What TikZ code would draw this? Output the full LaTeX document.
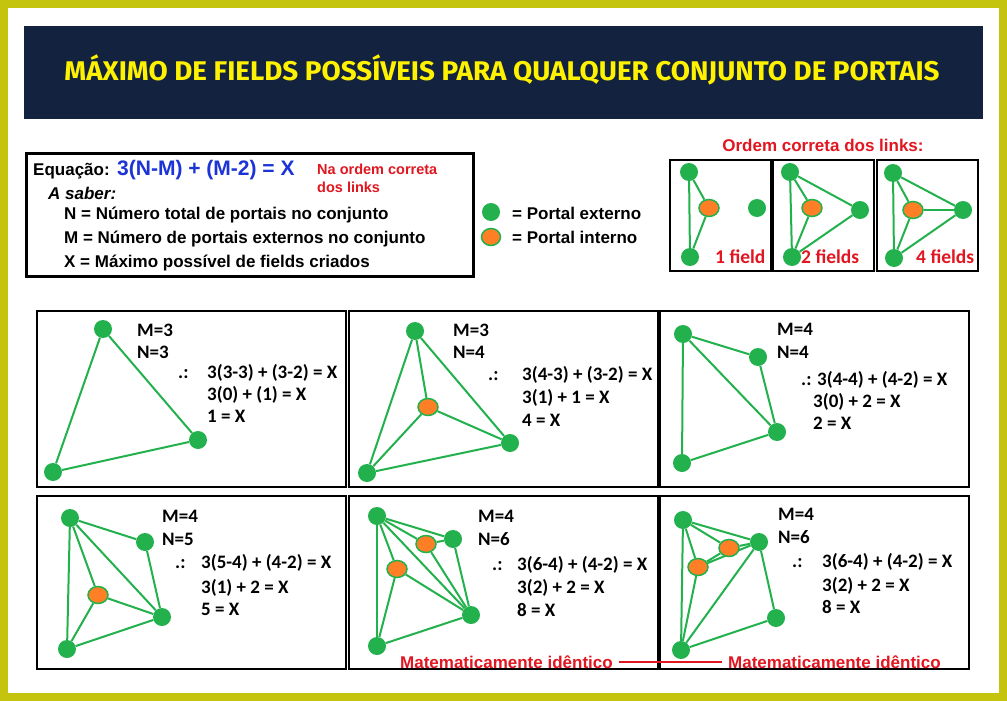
\documentclass[tikz,border=0pt]{standalone}
\usepackage{fontspec}
\usepackage{graphicx}
\setmainfont{Liberation Sans}
\newfontfamily\calfont{Carlito}
\newfontfamily\headfont{Fira Sans}
\usetikzlibrary{shapes.geometric}
\definecolor{pgreen}{RGB}{34,177,76}
\definecolor{porange}{RGB}{255,127,39}
\definecolor{pred}{RGB}{226,22,32}
\definecolor{pblue}{RGB}{28,52,214}
\definecolor{frameyel}{RGB}{196,196,14}
\definecolor{navy}{RGB}{19,35,63}
\definecolor{tyel}{RGB}{255,242,0}
\pgfdeclarelayer{back}
\pgfdeclarelayer{edges}
\pgfsetlayers{back,edges,main}
\begin{document}
\begin{tikzpicture}[x=1pt,y=-1pt,
  ext/.style={circle,fill=pgreen,inner sep=0pt,minimum size=18pt},
  int/.style={ellipse,fill=porange,draw=pgreen,line width=1.5pt,inner sep=0pt,minimum width=20pt,minimum height=17pt},
  lnk/.style={draw=pgreen,line width=2pt},
  frm/.style={draw=black,line width=2pt},
  calc/.style={anchor=base west,inner sep=0pt,font=\calfont\bfseries\fontsize{19}{23}\selectfont},
  txt/.style={anchor=base west,inner sep=0pt,font=\bfseries\fontsize{17}{20}\selectfont},
  lbl/.style={anchor=base west,inner sep=0pt,text=pred,font=\calfont\bfseries\fontsize{19.5}{22}\selectfont}]
\useasboundingbox (0,0) rectangle (1007,701);
\begin{pgfonlayer}{back}
\fill[frameyel] (0,0) rectangle (1007,701);
\fill[white] (8,8) rectangle (999,693);
\fill[navy] (24,26) rectangle (983,119);
\end{pgfonlayer}
\node[anchor=base,inner sep=0pt,text=tyel,font=\headfont\bfseries\fontsize{27}{27}\selectfont] (title) at (502,81)
  {\scalebox{1.03}[1]{MÁXIMO DE FIELDS POSSÍVEIS PARA QUALQUER CONJUNTO DE PORTAIS}};
% equacao
\draw[line width=3pt] (26,153) rectangle (473,276);
\node[txt] (eqa) at (33,175) {Equação:};
\node[txt,text=pblue,font=\bfseries\fontsize{21}{24}\selectfont] (eqb) at (117,175) {3(N-M) + (M-2) = X};
\node[txt,text=pred,font=\bfseries\fontsize{14.5}{18}\selectfont] (ordem1) at (317,174) {Na ordem correta};
\node[txt,text=pred,font=\bfseries\fontsize{14.5}{18}\selectfont] (ordem2) at (317,192) {dos links};
\node[txt,font=\bfseries\itshape\fontsize{17}{20}\selectfont] (saber) at (48,199) {A saber:};
\node[txt] (defn) at (64,219) {N = Número total de portais no conjunto};
\node[txt] (defm) at (64,243) {M = Número de portais externos no conjunto};
\node[txt] (defx) at (64,267) {X = Máximo possível de fields criados};
% legenda
\node[ext] (legext) at (491,212) {};
\node[int,minimum width=19pt] (legint) at (491,237) {};
\node[txt] at (512,219) {= Portal externo};
\node[txt] at (512,243) {= Portal interno};
% ordem dos links
\node[anchor=base,inner sep=0pt,text=pred,font=\bfseries\fontsize{17}{20}\selectfont] (ordtit) at (823,151) {Ordem correta dos links:};
\foreach \x in {670,773,877} \draw[line width=2.5pt] (\x,160) rectangle (\x+101,271);
\node[ext] (b1t) at (689,172) {}; \node[int] (b1o) at (709,208) {}; \node[ext] (b1r) at (757,208) {}; \node[ext] (b1b) at (690,257) {};
\node[ext] (b2t) at (790,172) {}; \node[int] (b2o) at (812,208) {}; \node[ext] (b2r) at (860,210) {}; \node[ext] (b2b) at (792,257) {};
\node[ext] (b3t) at (893,173) {}; \node[int] (b3o) at (913,210) {}; \node[ext] (b3r) at (963,210) {}; \node[ext] (b3b) at (894,258) {};
\node[lbl] at (715,263) {1 field};
\node[lbl] at (801,263) {2 fields};
\node[lbl] at (916,263) {4 fields};
% paineis
\foreach \x in {37,349,660} {
  \draw[frm] (\x,311) rectangle (\x+309,487);
  \draw[frm] (\x,496) rectangle (\x+309,669);
}
\node[ext] (p1t) at (103,329) {}; \node[ext] (p1r) at (198,440) {}; \node[ext] (p1b) at (53,472) {};
\node[ext] (p2t) at (415,331) {}; \node[int] (p2o) at (428,407) {}; \node[ext] (p2r) at (510,443) {}; \node[ext] (p2b) at (367,473) {};
\node[ext] (p3a) at (683,334) {}; \node[ext] (p3c) at (758,357) {}; \node[ext] (p3r) at (777,432) {}; \node[ext] (p3b) at (682,463) {};
\node[ext] (p4a) at (70,518) {}; \node[ext] (p4c) at (145,542) {}; \node[int] (p4o) at (98,595) {}; \node[ext] (p4r) at (162,617) {}; \node[ext] (p4b) at (67,649) {};
\node[ext] (p5a) at (377,516) {}; \node[ext] (p5c) at (453,539) {}; \node[int] (p5o) at (426,544) {}; \node[int] (p5q) at (397,569) {}; \node[ext] (p5r) at (471,615) {}; \node[ext] (p5b) at (377,646) {};
\node[ext] (p6a) at (683,520) {}; \node[ext] (p6c) at (759,542) {}; \node[int] (p6o) at (729,548) {}; \node[int] (p6q) at (698,567) {}; \node[ext] (p6r) at (776,618) {}; \node[ext] (p6b) at (681,650) {};
\begin{pgfonlayer}{edges}
\foreach \a/\b in {b1t/b1b,b1t/b1o,b1o/b1b,
  b2t/b2b,b2t/b2o,b2o/b2b,b2t/b2r,b2r/b2b,
  b3t/b3b,b3t/b3o,b3o/b3b,b3t/b3r,b3r/b3b,b3o/b3r,
  p1t/p1r,p1r/p1b,p1b/p1t,
  p2t/p2r,p2r/p2b,p2b/p2t,p2o/p2t,p2o/p2r,p2o/p2b,
  p3a/p3c,p3a/p3r,p3a/p3b,p3c/p3r,p3r/p3b,
  p4a/p4c,p4a/p4r,p4a/p4b,p4a/p4o,p4c/p4r,p4r/p4b,p4o/p4r,p4o/p4b,
  p5a/p5c,p5a/p5o,p5a/p5r,p5a/p5q,p5a/p5b,p5o/p5c,p5o/p5r,p5q/p5r,p5q/p5b,p5c/p5r,p5r/p5b,
  p6a/p6c,p6a/p6o,p6a/p6q,p6a/p6b,p6o/p6c,p6o/p6q,p6q/p6c,p6q/p6b,p6b/p6c,p6b/p6r,p6r/p6c}
  \draw[lnk] (\a) -- (\b);
\end{pgfonlayer}
% textos dos paineis
\node[calc] at (137,336) {M=3}; \node[calc] at (137,358) {N=3};
\node[calc] at (178,378) {.:};
\node[calc] at (207,378) {3(3-3) + (3-2) = X}; \node[calc] at (207,400) {3(0) + (1) = X}; \node[calc] at (207,422) {1 = X};
\node[calc] at (453,336) {M=3}; \node[calc] at (453,358) {N=4};
\node[calc] at (488,380) {.:};
\node[calc] at (522,380) {3(4-3) + (3-2) = X}; \node[calc] at (522,403) {3(1) + 1 = X}; \node[calc] at (522,426) {4 = X};
\node[calc] at (777,335) {M=4}; \node[calc] at (777,358) {N=4};
\node[calc] at (801,385) {.:};
\node[calc] at (817,385) {3(4-4) + (4-2) = X}; \node[calc] at (813,407) {3(0) + 2 = X}; \node[calc] at (813,429) {2 = X};
\node[calc] at (162,522) {M=4}; \node[calc] at (162,545) {N=5};
\node[calc] at (175,568) {.:};
\node[calc] at (201,568) {3(5-4) + (4-2) = X}; \node[calc] at (201,593) {3(1) + 2 = X}; \node[calc] at (201,615) {5 = X};
\node[calc] at (478,522) {M=4}; \node[calc] at (478,545) {N=6};
\node[calc] at (492,570) {.:};
\node[calc] at (517,570) {3(6-4) + (4-2) = X}; \node[calc] at (517,593) {3(2) + 2 = X}; \node[calc] at (517,616) {8 = X};
\node[calc] at (778,520) {M=4}; \node[calc] at (778,543) {N=6};
\node[calc] at (792,567) {.:};
\node[calc] at (822,567) {3(6-4) + (4-2) = X}; \node[calc] at (822,591) {3(2) + 2 = X}; \node[calc] at (822,613) {8 = X};
% identicos
\node[txt,text=pred] (mid1) at (400,668) {Matematicamente idêntico};
\node[txt,text=pred] (mid2) at (728,668) {Matematicamente idêntico};
\draw[pred,line width=1.5pt] ([xshift=6pt,yshift=6pt]mid1.base east) -- ([xshift=-6pt,yshift=6pt]mid2.base west);
\end{tikzpicture}
\end{document}
